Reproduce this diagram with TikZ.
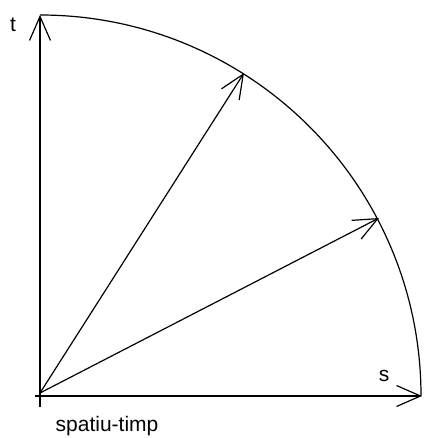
\documentclass[tikz,border=0pt]{standalone}
\usepackage{fontspec}
\setmainfont{Liberation Sans}
\usetikzlibrary{arrows.meta}
\begin{document}
\begin{tikzpicture}[x=1pt,y=-1pt,
  line width=1.2pt,
  vec/.style={-{Straight Barb[length=24pt,width=21pt,line width=1.2pt]}},
  lbl/.style={inner sep=0pt,font=\fontsize{21}{23}\selectfont}]
\useasboundingbox (0,0) rectangle (425,438);
\coordinate (O) at (40,393);
\coordinate (vb) at (40,407);
\coordinate (T) at (40,15);
\coordinate (hl) at (35,396);
\coordinate (S) at (422,396);
\coordinate (A) at (244,73);
\coordinate (B) at (379,218);
\draw[vec] (vb) -- (T);
\draw[vec] (hl) -- (S);
\draw (T) arc[start angle=-90,end angle=0,radius=381];
\draw[vec] (O) -- (A);
\draw[vec] (O) -- (B);
\node[lbl] (tl) at (13,25) {t};
\node[lbl] (sl) at (384,376) {s};
\node[lbl] (st) at (107,426) {spatiu-timp};
\end{tikzpicture}
\end{document}
